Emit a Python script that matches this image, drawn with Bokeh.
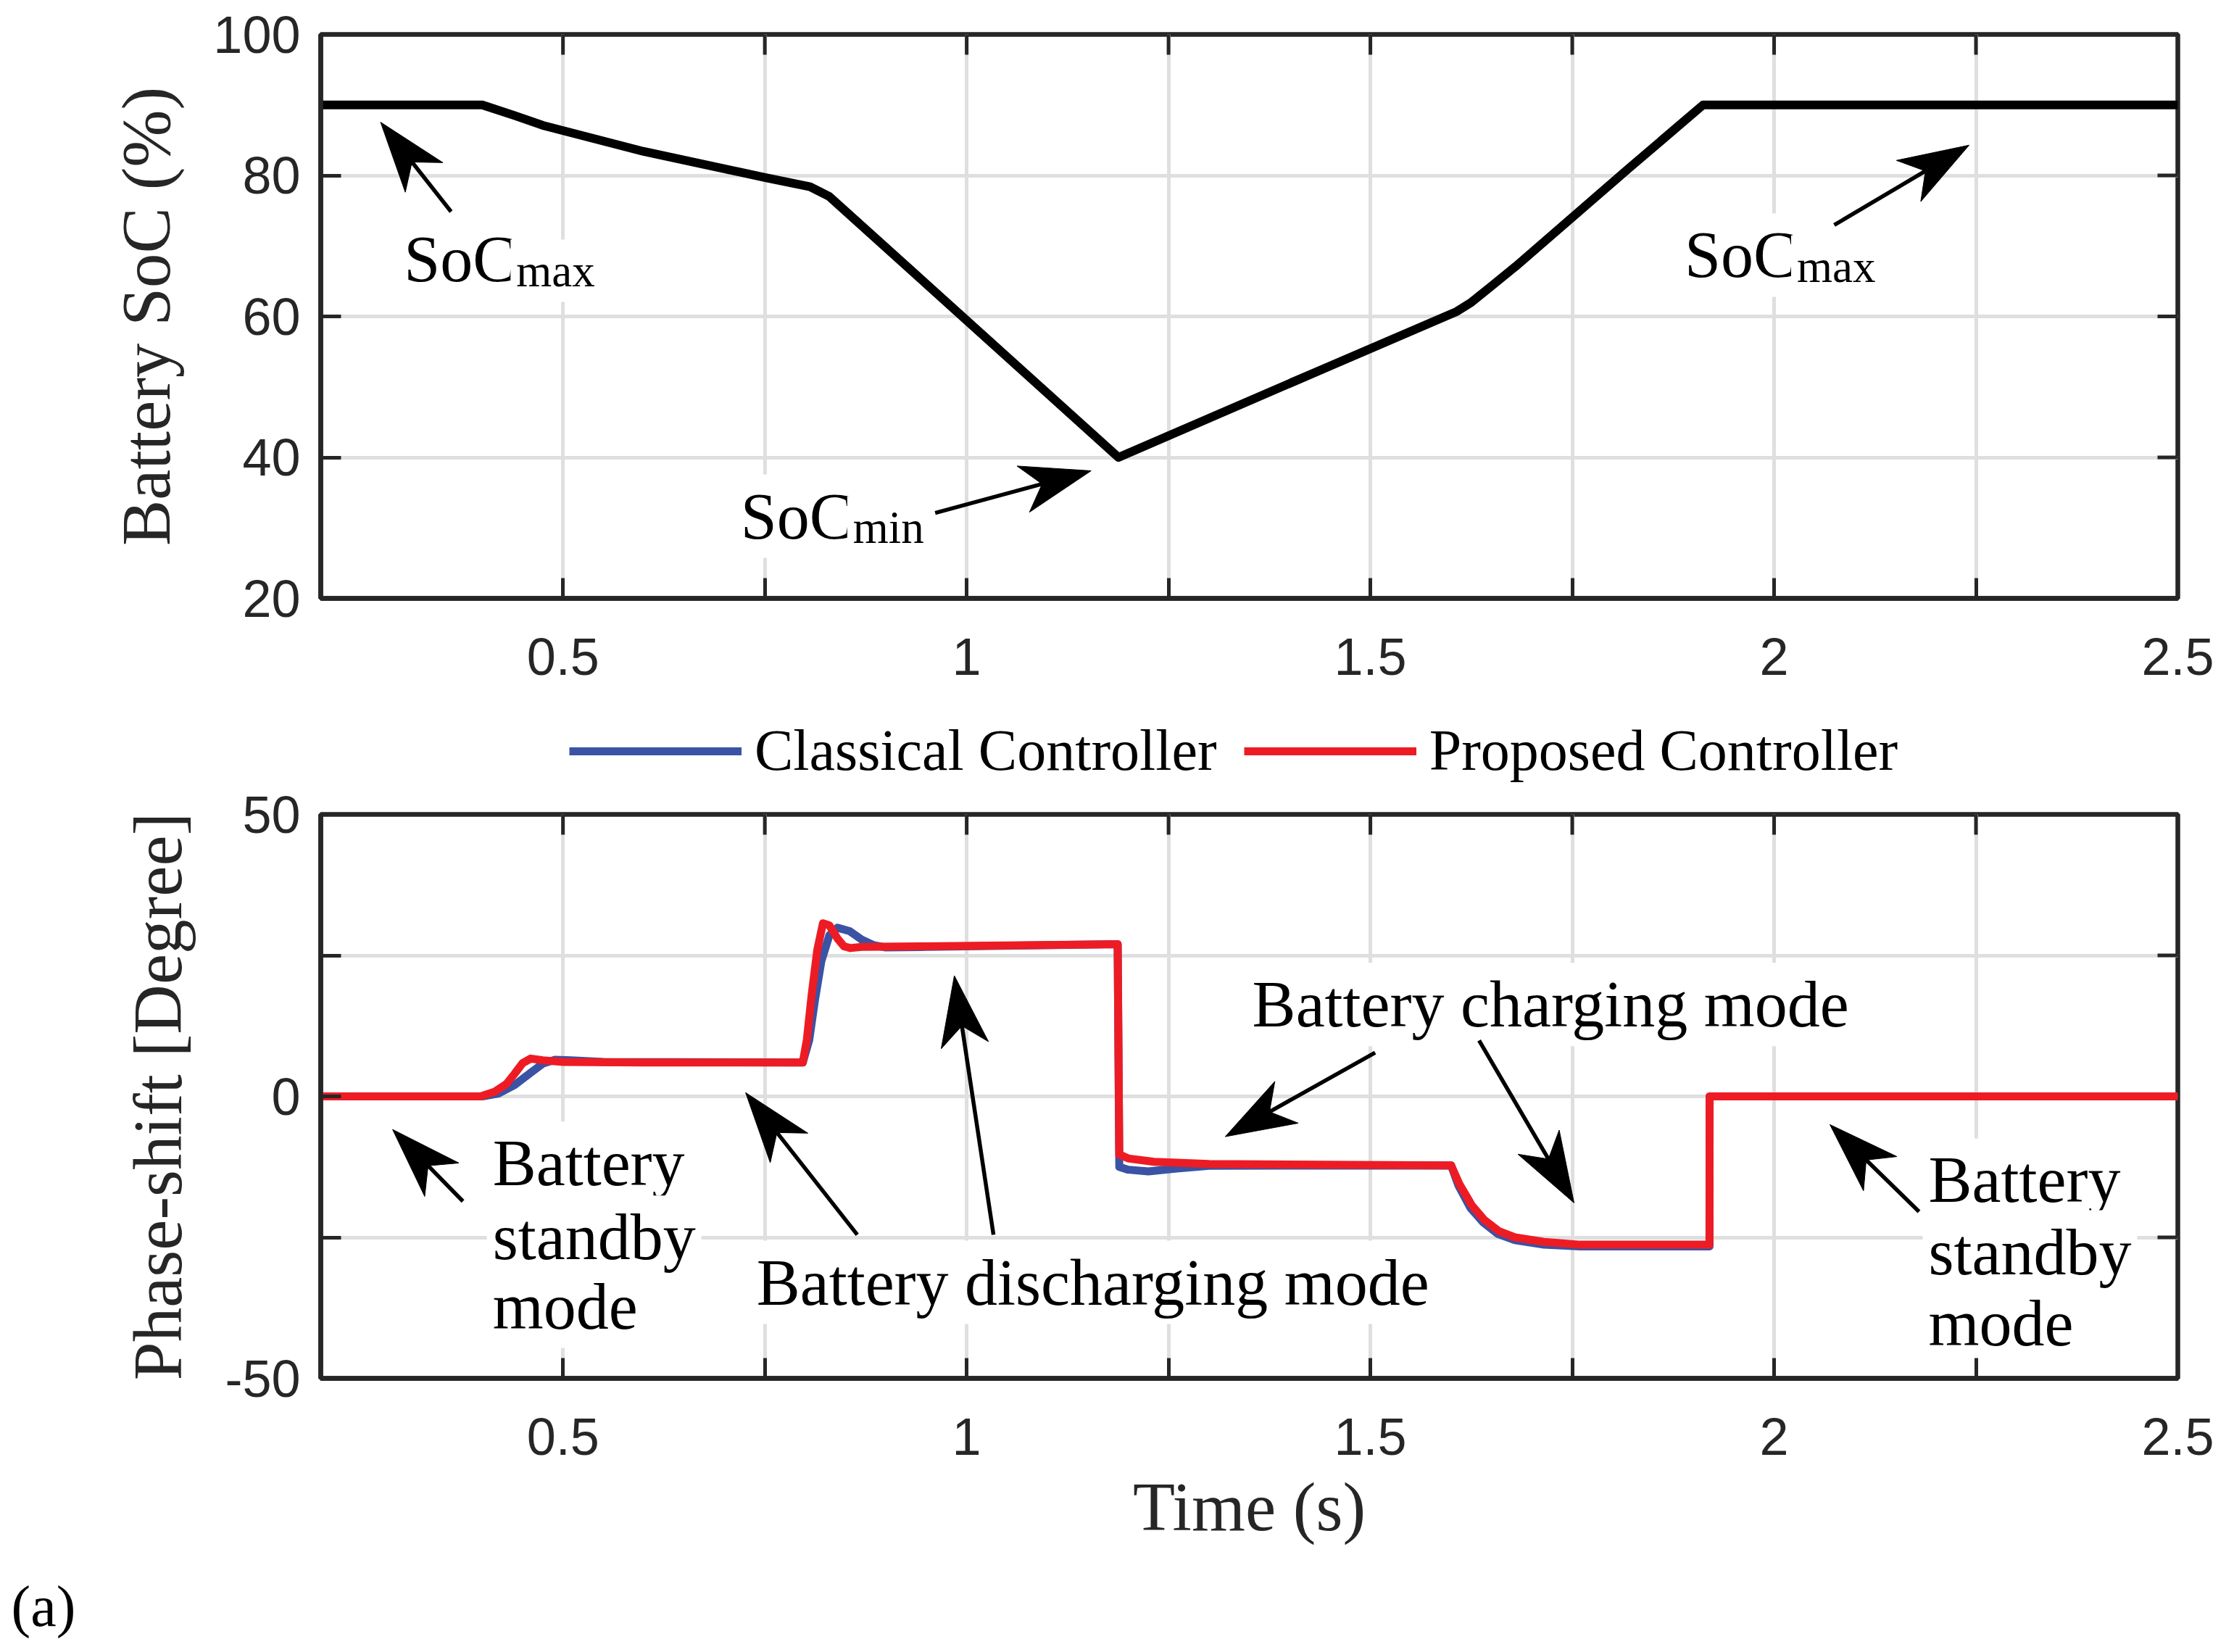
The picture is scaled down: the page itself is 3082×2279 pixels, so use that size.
import math
from bokeh.plotting import figure
from bokeh.models import FixedTicker, Legend, LegendItem, Label, Range1d, Title
from bokeh.layouts import column
from bokeh.embed import file_html
from bokeh.resources import INLINE

# ---------------- data ----------------
soc_time = [0.20, 0.40, 0.44, 0.475, 0.60, 0.75, 0.806, 0.83, 1.188, 1.40, 1.607, 1.625, 1.65, 1.68, 1.82, 1.912, 2.50]
soc_value = [90.0, 90.0, 88.5, 87.1, 83.4, 79.7, 78.4, 77.0, 40.0, 50.5, 60.7, 62.0, 64.3, 67.1, 81.0, 90.0, 90.0]

time_classical = [0.20, 0.40, 0.42, 0.44, 0.46, 0.475, 0.49, 0.51, 0.55, 0.797, 0.805, 0.812, 0.82, 0.83, 0.84,
                  0.855, 0.87, 0.885, 0.90, 0.95, 1.187, 1.189, 1.20, 1.225, 1.26, 1.30, 1.60, 1.609, 1.624,
                  1.64, 1.658, 1.679, 1.715, 1.76, 1.92, 1.9201, 2.50]
phase_classical = [0, 0, 0.5, 2.0, 4.2, 5.8, 6.5, 6.4, 6.1, 6.0, 10.0, 17.0, 24.0, 28.6, 29.9,
                   29.3, 27.8, 26.8, 26.4, 26.5, 27.0, -12.5, -13.0, -13.3, -12.8, -12.3, -12.25, -15.8, -19.8,
                   -22.4, -24.4, -25.5, -26.3, -26.6, -26.6, 0, 0]

time_proposed = [0.20, 0.398, 0.415, 0.43, 0.44, 0.45, 0.46, 0.475, 0.50, 0.60, 0.797, 0.802, 0.808, 0.815,
                 0.822, 0.830, 0.840, 0.848, 0.856, 0.87, 0.95, 1.187, 1.189, 1.20, 1.232, 1.30, 1.60, 1.61,
                 1.626, 1.641, 1.659, 1.679, 1.715, 1.76, 1.92, 1.9201, 2.50]
phase_proposed = [0, 0, 0.8, 2.2, 4.0, 5.9, 6.7, 6.4, 6.1, 6.0, 6.0, 10.0, 18.0, 26.0,
                  30.7, 30.3, 28.0, 26.6, 26.3, 26.5, 26.6, 27.0, -10.3, -11.0, -11.6, -12.0, -12.25, -15.5,
                  -19.4, -21.9, -23.9, -25.0, -25.8, -26.3, -26.3, 0, 0]

series_names = ["Classical Controller", "Proposed Controller"]

x_tick_values = [0.5, 0.75, 1.0, 1.25, 1.5, 1.75, 2.0, 2.25, 2.5]
x_tick_labels = ["0.5", "", "1", "", "1.5", "", "2", "", "2.5"]
soc_tick_values = [20, 40, 60, 80, 100]
soc_tick_labels = ["20", "40", "60", "80", "100"]
phase_tick_values = [-50, -25, 0, 25, 50]
phase_tick_labels = ["-50", "", "0", "", "50"]

# annotations (top panel)
soc_arrow_tail_x = [0.3614, 0.961, 2.0745]
soc_arrow_tail_y = [74.86, 32.13, 72.97]
soc_arrow_tip_x = [0.2741, 1.1541, 2.2415]
soc_arrow_tip_y = [87.55, 38.10, 84.29]
soc_text_x = [0.303, 0.720, 1.889]
soc_text_y = [65.28, 28.84, 65.87]
soc_text_sub = ["max", "min", "max"]

# annotations (bottom panel)
ph_arrow_tail_x = [0.3761, 0.8645, 1.0332, 1.5059, 1.6346, 2.1795]
ph_arrow_tail_y = [-18.61, -24.54, -24.54, 7.77, 9.92, -20.43]
ph_arrow_tip_x = [0.2890, 0.7262, 0.9847, 1.3202, 1.7522, 2.0691]
ph_arrow_tip_y = [-5.87, 0.66, 21.40, -7.14, -18.88, -5.00]
ph_text = ["Battery", "standby", "mode", "Battery discharging mode", "Battery charging mode",
           "Battery", "standby", "mode"]
ph_text_x = [0.4129, 0.4129, 0.4129, 0.7397, 1.3537, 2.1912, 2.1912, 2.1912]
ph_text_y = [-15.37, -28.48, -40.75, -36.5, 12.78, -18.37, -31.1, -43.7]

# ---------------- styling ----------------
X0, X1 = 0.2, 2.5
FW, FH = 2562, 778
LEFT, RIGHT = 442, 70
TOTAL_W = LEFT + FW + RIGHT
DARK = "#262626"
GRID = "#dfdfdf"
BLUE = "#3a53a4"
RED = "#ed1c24"
SERIF = "Liberation Serif"
SANS = "Liberation Sans"
TICK_LEN = 28
HEAD_LEN, HEAD_WID, HEAD_NOTCH = 97, 66, 70
PAD = 8
kx = FW / (X1 - X0)


def style_axis(ax, ticks, labels, standoff):
    ax.ticker = FixedTicker(ticks=ticks)
    ax.major_label_overrides = {float(t): l for t, l in zip(ticks, labels)}
    ax.major_tick_in = TICK_LEN
    ax.major_tick_out = 0
    ax.minor_tick_line_color = None
    ax.major_tick_line_color = DARK
    ax.major_tick_line_width = 5
    ax.axis_line_color = DARK
    ax.axis_line_width = 6.5
    ax.major_label_text_font = SANS
    ax.major_label_text_color = DARK
    ax.major_label_text_font_size = "72px"
    ax.major_label_standoff = standoff
    ax.axis_label_text_font = SERIF
    ax.axis_label_text_font_style = "normal"
    ax.axis_label_text_font_size = "95px"
    ax.axis_label_text_color = DARK


def make_fig(y0, y1, yticks, ylabels, ylabel, top, bottom):
    p = figure(frame_width=FW, frame_height=FH, x_range=Range1d(X0, X1), y_range=Range1d(y0, y1),
               output_backend="svg", toolbar_location=None, title=None,
               min_border_left=LEFT, min_border_right=RIGHT, min_border_top=top, min_border_bottom=bottom,
               background_fill_color="white", border_fill_color="white")
    p.outline_line_color = DARK
    p.outline_line_width = 6.5
    xax = p.below[0]
    yax = p.left[0]
    style_axis(xax, x_tick_values, x_tick_labels, 55)
    style_axis(yax, yticks, ylabels, 28)
    yax.axis_label = ylabel
    yax.axis_label_standoff = 36
    p.xgrid.ticker = FixedTicker(ticks=x_tick_values)
    p.ygrid.ticker = FixedTicker(ticks=yticks)
    for g in (p.xgrid, p.ygrid):
        g.grid_line_color = GRID
        g.grid_line_width = 5
    # mirrored inward ticks on the top and right edges of the box
    ky = FH / (y1 - y0)
    p.segment(x_tick_values, [y1] * len(x_tick_values), x_tick_values,
              [y1 - TICK_LEN / ky] * len(x_tick_values), line_color=DARK, line_width=5)
    p.segment([X1] * len(yticks), yticks, [X1 - TICK_LEN / kx] * len(yticks), yticks,
              line_color=DARK, line_width=5)
    return p, xax, yax, ky


def add_arrows(p, tx, ty, hx, hy, ky):
    xs, ys, sx0, sy0, sx1, sy1 = [], [], [], [], [], []
    for x0, y0, x1, y1 in zip(tx, ty, hx, hy):
        A0, B0, A1, B1 = x0 * kx, y0 * ky, x1 * kx, y1 * ky
        dx, dy = A1 - A0, B1 - B0
        L = math.hypot(dx, dy)
        ux, uy = dx / L, dy / L
        nx, ny = -uy, ux
        bx, by = A1 - HEAD_LEN * ux, B1 - HEAD_LEN * uy
        c1 = (bx + HEAD_WID / 2 * nx, by + HEAD_WID / 2 * ny)
        c2 = (bx - HEAD_WID / 2 * nx, by - HEAD_WID / 2 * ny)
        nt = (A1 - HEAD_NOTCH * ux, B1 - HEAD_NOTCH * uy)
        pts = [(A1, B1), c1, nt, c2]
        xs.append([q[0] / kx for q in pts])
        ys.append([q[1] / ky for q in pts])
        sx0.append(x0)
        sy0.append(y0)
        sx1.append(nt[0] / kx)
        sy1.append(nt[1] / ky)
    p.segment(sx0, sy0, sx1, sy1, line_color="black", line_width=5.5)
    p.patches(xs, ys, fill_color="black", line_color="black", line_width=1)


def add_text(p, x, y, text, size, x_offset=0, y_offset=0):
    # the padded text box is anchored at its corner: compensate so the baseline sits at (x, y)
    p.add_layout(Label(x=x, y=y, text=text,
                       x_offset=x_offset - PAD, y_offset=y_offset + PAD + 0.216 * size,
                       text_font=SERIF, text_font_size=f"{size}px", text_color="black",
                       text_baseline="alphabetic", text_align="left",
                       background_fill_color="white", padding=PAD, level="underlay"))


# ---------------- top panel ----------------
p1, p1x, p1y, ky1 = make_fig(20, 100, soc_tick_values, soc_tick_labels, "Battery SoC (%)", 47, 146)
p1.line(soc_time, soc_value, line_color="black", line_width=12, line_join="round")
add_arrows(p1, soc_arrow_tail_x, soc_arrow_tail_y, soc_arrow_tip_x, soc_arrow_tip_y, ky1)
soc_w = 1.723 * 90
for x, y, sub in zip(soc_text_x, soc_text_y, soc_text_sub):
    add_text(p1, x, y, "SoC", 90)
    add_text(p1, x, y, sub, 63, x_offset=soc_w, y_offset=-10)

# ---------------- legend strip between the panels ----------------
# the legend swatches reuse the two series, drawn out of this strip's view
pl = figure(width=TOTAL_W, height=110, x_axis_type=None, y_axis_type=None, title=None,
            x_range=Range1d(0, 1), y_range=Range1d(1000, 1001),
            output_backend="svg", toolbar_location=None, min_border=0,
            background_fill_color="white", border_fill_color="white")
pl.outline_line_color = None
pl.grid.visible = False
l_blue = pl.line(time_classical, phase_classical, line_color=BLUE, line_width=11)
l_red = pl.line(time_proposed, phase_proposed, line_color=RED, line_width=11)
legend = Legend(items=[LegendItem(label=series_names[0], renderers=[l_blue]),
                       LegendItem(label=series_names[1], renderers=[l_red])],
                orientation="horizontal", location=(343, 0),
                glyph_width=238, glyph_height=20, label_standoff=18, spacing=37,
                padding=0, margin=0, border_line_color=None, background_fill_alpha=0,
                label_text_font=SERIF, label_text_font_size="80px", label_text_color="black")
pl.add_layout(legend)

# ---------------- bottom panel ----------------
p2, p2x, p2y, ky2 = make_fig(-50, 50, phase_tick_values, phase_tick_labels, "Phase-shift [Degree]", 42, 370)
p2x.axis_label = "Time (s)"
p2x.axis_label_standoff = 16
p2.line(time_classical, phase_classical, line_color=BLUE, line_width=11, line_join="round")
p2.line(time_proposed, phase_proposed, line_color=RED, line_width=11, line_join="round")
add_arrows(p2, ph_arrow_tail_x, ph_arrow_tail_y, ph_arrow_tip_x, ph_arrow_tip_y, ky2)
for x, y, t in zip(ph_text_x, ph_text_y, ph_text):
    add_text(p2, x, y, t, 90)

p2.add_layout(Title(text="(a)", align="left", offset=-427, standoff=71,
                    text_font=SERIF, text_font_size="80px", text_font_style="normal",
                    text_color="black"), "below")

layout = column(p1, pl, p2)
open("out.html", "w").write(file_html(layout, INLINE))
